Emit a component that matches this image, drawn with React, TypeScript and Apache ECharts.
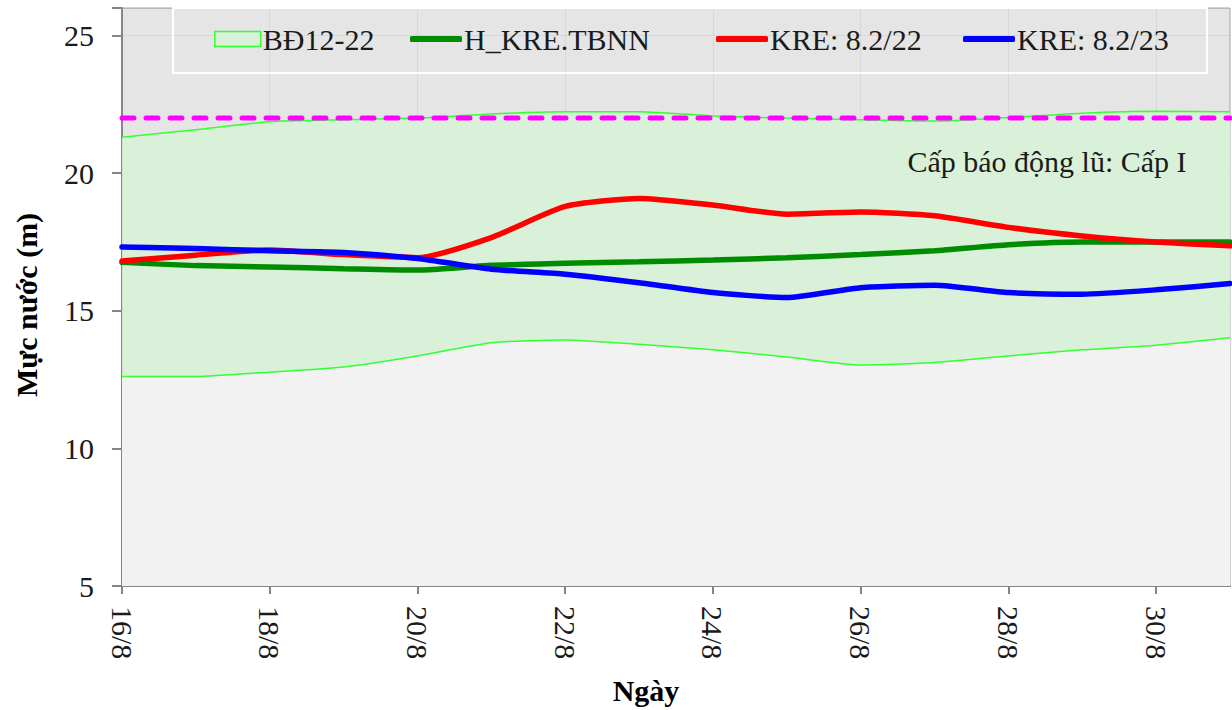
import React, { useEffect, useRef } from "react";
import * as echarts from "echarts";

const days = ["16/8","17/8","18/8","19/8","20/8","21/8","22/8","23/8","24/8","25/8","26/8","27/8","28/8","29/8","30/8","31/8"];
const bandUpper = [21.30,21.58,21.87,21.94,22.0,22.15,22.23,22.23,22.08,22.0,21.94,21.89,22.02,22.18,22.25,22.23];
const bandLower = [12.61,12.61,12.77,12.96,13.36,13.84,13.94,13.78,13.58,13.32,13.03,13.12,13.36,13.58,13.75,14.02];
const meanTBNN = [16.76,16.64,16.59,16.53,16.48,16.65,16.73,16.78,16.84,16.93,17.04,17.18,17.40,17.50,17.50,17.50];
const kre22 = [16.81,17.02,17.21,17.04,16.93,17.66,18.79,19.08,18.84,18.51,18.59,18.45,18.03,17.72,17.50,17.36];
const kre23 = [17.32,17.26,17.18,17.12,16.90,16.51,16.33,16.02,15.66,15.48,15.84,15.93,15.66,15.60,15.76,15.99];
const alarmLevel = 22;
const yTicks = { min: 5, max: 26, interval: 5 };
const names = ["BĐ12-22", "H_KRE.TBNN", "KRE: 8.2/22", "KRE: 8.2/23"];
const alarmText = "Cấp báo động lũ: Cấp I";

const FONT = "'Liberation Serif', 'Times New Roman', serif";
const FS = 30;

export default function App() {
  const ref = useRef<HTMLDivElement>(null);
  useEffect(() => {
    if (!ref.current) return;
    const chart = echarts.init(ref.current, null, { renderer: "svg" });
    const bandDiff = bandUpper.map((u, i) => +(u - bandLower[i]).toFixed(3));
    const legendLeft = [214, 410, 716, 963];
    const lineColors = ["#d8f1d8", "#008c00", "#ff0000", "#0000ff"];
    const option: any = {
      animation: false,
      backgroundColor: "#ffffff",
      grid: {
        left: 122,
        right: 2,
        top: 8,
        bottom: 124,
        show: true,
        backgroundColor: "#e5e5e5",
        borderColor: "#a6a6a6",
        borderWidth: 1,
      },
      legend: names.map((n, i) => ({
        left: legendLeft[i],
        top: 24,
        padding: 0,
        itemWidth: i === 0 ? 46 : 52,
        itemHeight: i === 0 ? 15 : 6,
        itemGap: 0,
        textStyle: { fontFamily: FONT, fontSize: FS, color: "#1a1a1a", padding: [0, 0, 0, -3] },
        data: [
          i === 0
            ? { name: n, icon: "rect", itemStyle: { color: "#d8f1d8", borderColor: "#33ff33", borderWidth: 1.5 } }
            : { name: n, icon: "roundRect", itemStyle: { color: lineColors[i], borderWidth: 0 } },
        ],
        selectedMode: false,
      })),
      xAxis: {
        type: "category",
        data: days,
        boundaryGap: false,
        axisLine: { lineStyle: { color: "#868686", width: 2 } },
        axisTick: { interval: 1, length: 8, lineStyle: { color: "#868686", width: 2 } },
        axisLabel: {
          interval: 1,
          rotate: -90,
          margin: 20,
          fontFamily: FONT,
          fontSize: FS,
          color: "#1a1a1a",
        },
        splitLine: { show: true, interval: 1, lineStyle: { color: "rgba(0,0,0,0.06)", width: 1 } },
      },
      yAxis: {
        type: "value",
        min: yTicks.min,
        max: yTicks.max,
        interval: yTicks.interval,
        axisLine: { show: true, lineStyle: { color: "#868686", width: 2 } },
        axisTick: { show: true, length: 10, lineStyle: { color: "#868686", width: 2 } },
        axisLabel: {
          margin: 28,
          fontFamily: FONT,
          fontSize: FS,
          color: "#1a1a1a",
          formatter: (v: number) => (v % 5 === 0 ? String(v) : ""),
        },
        splitLine: { show: true, lineStyle: { color: "rgba(0,0,0,0.06)", width: 1 } },
      },
      series: [
        {
          name: "lower",
          type: "line",
          data: bandLower,
          stack: "band",
          symbol: "none",
          smooth: 0.2,
          lineStyle: { color: "#33ff33", width: 1.5 },
          areaStyle: { color: "#f2f2f2", opacity: 1 },
          z: 1,
        },
        {
          name: names[0],
          type: "line",
          data: bandDiff,
          stack: "band",
          symbol: "none",
          smooth: 0.2,
          lineStyle: { color: "#33ff33", width: 1.5 },
          itemStyle: { color: "#d8f1d8" },
          areaStyle: { color: "rgba(214,243,214,0.85)", opacity: 1 },
          z: 1,
        },
        {
          name: "alarm",
          type: "line",
          data: days.map(() => alarmLevel),
          symbol: "none",
          lineStyle: { color: "#ff00ff", width: 5, type: [12, 12], cap: "round" },
          z: 2,
        },
        {
          name: names[1],
          type: "line",
          data: meanTBNN,
          symbol: "none",
          smooth: 0.2,
          lineStyle: { color: "#008c00", width: 5.5, cap: "round" },
          itemStyle: { color: "#008c00" },
          z: 3,
        },
        {
          name: names[2],
          type: "line",
          data: kre22,
          symbol: "none",
          smooth: 0.2,
          lineStyle: { color: "#ff0000", width: 5.5, cap: "round" },
          itemStyle: { color: "#ff0000" },
          z: 4,
        },
        {
          name: names[3],
          type: "line",
          data: kre23,
          symbol: "none",
          smooth: 0.2,
          lineStyle: { color: "#0000ff", width: 5.5, cap: "round" },
          itemStyle: { color: "#0000ff" },
          z: 5,
        },
      ],
      graphic: [
        {
          type: "rect",
          shape: { x: 173, y: 8, width: 1034, height: 65 },
          style: { fill: "none", stroke: "#ffffff", lineWidth: 2 },
          z: 10,
        },
        {
          type: "text",
          x: 1047,
          y: 161,
          style: {
            text: alarmText,
            font: `${FS}px ${FONT}`,
            fill: "#1a1a1a",
            textAlign: "center",
            textVerticalAlign: "middle",
          },
          z: 10,
        },
        {
          type: "text",
          x: 26,
          y: 305,
          rotation: Math.PI / 2,
          style: {
            text: "Mực nước (m)",
            font: `bold ${FS}px ${FONT}`,
            fill: "#000000",
            textAlign: "center",
            textVerticalAlign: "middle",
          },
          z: 10,
        },
        {
          type: "text",
          x: 646,
          y: 690,
          style: {
            text: "Ngày",
            font: `bold ${FS}px ${FONT}`,
            fill: "#000000",
            textAlign: "center",
            textVerticalAlign: "middle",
          },
          z: 10,
        },
      ],
    };
    chart.setOption(option);
    return () => chart.dispose();
  }, []);
  return (
    <div
      ref={ref}
      style={{ position: "fixed", left: 0, top: 0, width: 1232, height: 710, background: "#fff" }}
    />
  );
}
